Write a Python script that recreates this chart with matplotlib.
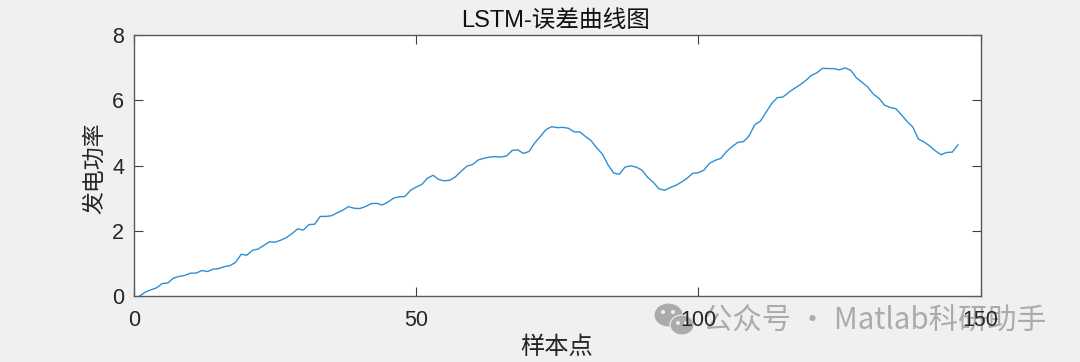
import matplotlib
matplotlib.use("Agg")
import matplotlib.pyplot as plt
from matplotlib.patches import Ellipse

plt.rcParams['font.family'] = ['Liberation Sans', 'Noto Sans CJK SC', 'DejaVu Sans']

sample_start = 1
error_values = [
    0.00, 0.12, 0.19, 0.25, 0.38, 0.40, 0.55, 0.60, 0.63, 0.70,
    0.70, 0.78, 0.75, 0.82, 0.84, 0.90, 0.93, 1.03, 1.28, 1.25,
    1.40, 1.44, 1.55, 1.66, 1.65, 1.71, 1.79, 1.91, 2.06, 2.02,
    2.19, 2.20, 2.44, 2.44, 2.46, 2.55, 2.63, 2.74, 2.69, 2.68,
    2.74, 2.83, 2.84, 2.79, 2.88, 3.00, 3.04, 3.05, 3.24, 3.34,
    3.42, 3.61, 3.70, 3.57, 3.53, 3.55, 3.66, 3.83, 3.98, 4.03,
    4.17, 4.22, 4.26, 4.27, 4.26, 4.29, 4.46, 4.48, 4.37, 4.43,
    4.69, 4.89, 5.10, 5.19, 5.16, 5.17, 5.14, 5.03, 5.03, 4.89,
    4.76, 4.54, 4.35, 4.02, 3.77, 3.73, 3.95, 3.99, 3.95, 3.86,
    3.64, 3.49, 3.29, 3.24, 3.32, 3.39, 3.49, 3.61, 3.76, 3.78,
    3.86, 4.07, 4.16, 4.22, 4.43, 4.58, 4.71, 4.73, 4.91, 5.25,
    5.36, 5.63, 5.90, 6.08, 6.10, 6.24, 6.36, 6.47, 6.60, 6.76,
    6.84, 6.98, 6.97, 6.97, 6.93, 6.99, 6.92, 6.69, 6.55, 6.41,
    6.19, 6.06, 5.85, 5.78, 5.74, 5.55, 5.35, 5.18, 4.81, 4.72,
    4.60, 4.45, 4.33, 4.40, 4.41, 4.63,
]
x_ticks = [0, 50, 100, 150]
y_ticks = [0, 2, 4, 6, 8]
title_text = 'LSTM-误差曲线图'
x_label = '样本点'
y_label = '发电功率'
watermark = '公众号 · Matlab科研助手'

W, H = 1080, 362
fig = plt.figure(figsize=(W / 100, H / 100), dpi=100, facecolor='#F0F0F0')
L, R, T, B = 134, 980.5, 35, 296
ax = fig.add_axes([L / W, 1 - B / H, (R - L) / W, (B - T) / H], facecolor='white', zorder=5)

xs = list(range(sample_start, sample_start + len(error_values)))
ax.plot(xs, error_values, color='#2E8FD4', lw=1.0)
ax.set_xlim(0, 150)
ax.set_ylim(0, 8)
ax.set_xticks(x_ticks)
ax.set_yticks(y_ticks)
ax.tick_params(direction='in', length=6.5, width=0.8, color='#404040', labelcolor='#262626',
               labelsize=15.5, top=True, right=True)
ax.tick_params(axis='x', pad=10)
ax.tick_params(axis='y', pad=7)
for s in ax.spines.values():
    s.set_color('#5A5A5A')
    s.set_linewidth(1.0)

fig.text(556 / W, 1 - 21 / H, title_text, ha='center', va='center', fontsize=17, color='#111111')
fig.text(557 / W, 1 - 348 / H, x_label, ha='center', va='center', fontsize=17.5, color='#262626')
fig.text(95 / W, 1 - 168 / H, y_label, ha='center', va='center', rotation=90, fontsize=16.5, color='#262626')

wm = '#ABABAB'
bg = '#F0F0F0'
fig.text(703 / W, 1 - 320 / H, watermark, ha='left', va='center', fontsize=21.2, color=wm,
         family=['Noto Sans CJK SC', 'DejaVu Sans'], zorder=0)
for cx, cy, w, h in [(668.5, 315, 29, 24), (682, 325, 24, 20)]:
    fig.add_artist(Ellipse((cx / W, 1 - cy / H), w / W, h / H, transform=fig.transFigure,
                           facecolor=wm, edgecolor=bg, lw=0.8, zorder=0))
for cx, cy in [(663, 312), (673, 312), (678, 323), (686, 323)]:
    fig.add_artist(Ellipse((cx / W, 1 - cy / H), 4 / W, 4 / H, transform=fig.transFigure,
                           facecolor=bg, edgecolor='none', zorder=1))

fig.savefig('out.png', dpi=100, facecolor=fig.get_facecolor())
